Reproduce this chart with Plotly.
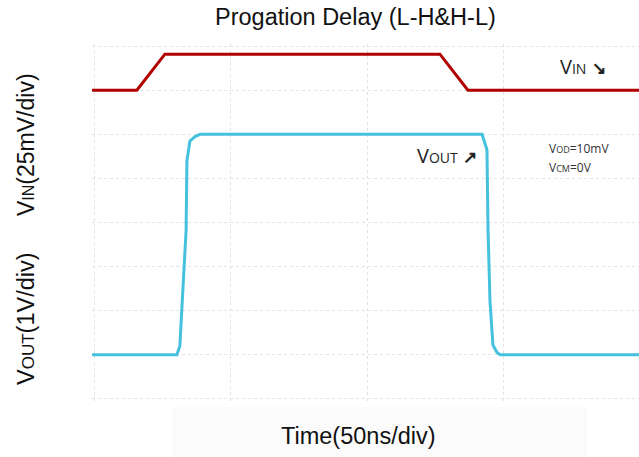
import plotly.graph_objects as go

# Time in ns (50 ns/div), voltages in divisions
vin_t = [-1.1, 15.4, 25.7, 126.8, 137.1, 200]
vin_v = [7.0, 7.0, 7.82, 7.82, 7.0, 7.0]

vout_t = [-1.1, 30.1, 31.2, 33.5, 33.8, 34.9, 36.8, 38.6, 142.3, 144.1, 144.5, 145.2, 146.3, 147.8, 148.9, 200]
vout_v = [1.0, 1.0, 1.2, 3.83, 5.4, 5.85, 5.95, 6.0, 6.0, 5.65, 3.83, 2.24, 1.22, 1.05, 1.0, 1.0]

x_ticks = [0, 50, 100, 150, 200]
y_ticks = [0, 1, 2, 3, 4, 5, 6, 7, 8]

FONT = "Liberation Sans, Arial, sans-serif"
AFONT = "Open Sans, sans-serif"

fig = go.Figure()
fig.add_trace(go.Scatter(x=vin_t, y=vin_v, mode="lines",
                         line=dict(color="#b00000", width=3), showlegend=False))
fig.add_trace(go.Scatter(x=vout_t, y=vout_v, mode="lines",
                         line=dict(color="#45c1dd", width=3), showlegend=False))

sm = lambda s, px: f"<span style='font-size:{px}px'>{s}</span>"

W, H = 639, 457
L, T, PW, PH = 92, 44, 547, 357
px = lambda x: (x - L) / PW
py = lambda y: (T + PH - y) / PH

annos = [
    dict(x=170.2, y=7.55, xref="x", yref="y", text="V" + sm("IN", 14) + " " + sm("<b>↘</b>", 17),
         xanchor="left", yanchor="middle", font=dict(size=20, color="#222", family=AFONT)),
    dict(x=117.6, y=5.51, xref="x", yref="y", text="V" + sm("OUT", 14) + " " + sm("<b>↗</b>", 17),
         xanchor="left", yanchor="middle", font=dict(size=20, color="#222", family=AFONT)),
    dict(x=166.2, y=5.69, xref="x", yref="y", text="V" + sm("OD", 9) + "=10mV",
         xanchor="left", yanchor="middle", font=dict(size=12, color="#333", family=AFONT)),
    dict(x=166.2, y=5.24, xref="x", yref="y", text="V" + sm("CM", 9) + "=0V",
         xanchor="left", yanchor="middle", font=dict(size=12, color="#333", family=AFONT)),
    dict(x=px(26), y=py(145), xref="paper", yref="paper",
         text="V" + sm("IN", 16) + "(25mV/div)", textangle=-90,
         xanchor="center", yanchor="middle", font=dict(size=23, color="#111", family=FONT)),
    dict(x=px(26), y=py(319), xref="paper", yref="paper",
         text="V" + sm("OUT", 17) + "(1V/div)", textangle=-90,
         xanchor="center", yanchor="middle", font=dict(size=23.5, color="#111", family=FONT)),
    dict(x=px(358), y=py(436), xref="paper", yref="paper",
         text="Time(50ns/div)",
         xanchor="center", yanchor="middle", font=dict(size=23.5, color="#111", family=FONT)),
    dict(x=px(355), y=py(17), xref="paper", yref="paper",
         text="Progation Delay (L-H&H-L)",
         xanchor="center", yanchor="middle", font=dict(size=23.5, color="#111", family=FONT)),
]
for a in annos:
    a["showarrow"] = False

shapes = [
    dict(type="rect", xref="paper", yref="paper", layer="below",
         x0=px(172), x1=px(587), y0=py(457), y1=py(407),
         fillcolor="#fbfbfb", line=dict(width=0)),
]

fig.update_layout(
    width=W, height=H,
    margin=dict(l=L, r=W - L - PW, t=T, b=H - T - PH),
    paper_bgcolor="white", plot_bgcolor="rgba(0,0,0,0)",
    annotations=annos, shapes=shapes,
    xaxis=dict(range=[-1.1, 200], tickvals=x_ticks, showticklabels=False,
               showgrid=True, gridcolor="#e2e2e2", griddash="dot", gridwidth=1,
               zeroline=False, showline=False, ticks=""),
    yaxis=dict(range=[-0.05, 8.05], tickvals=y_ticks, showticklabels=False,
               showgrid=True, gridcolor="#e2e2e2", griddash="dot", gridwidth=1,
               zeroline=False, showline=False, ticks=""),
)
fig.write_html("out.html", config={"displayModeBar": False},
               post_script="document.body.style.margin='0';")
